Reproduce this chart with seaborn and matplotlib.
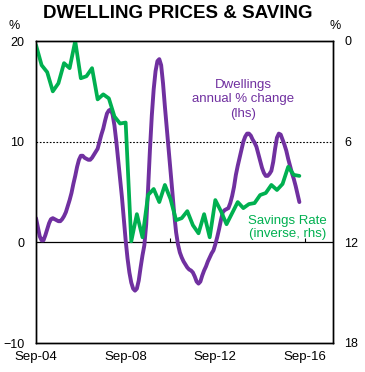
import matplotlib
matplotlib.use("Agg")
import pandas as pd
import seaborn as sns
import matplotlib.pyplot as plt

# monthly, Sep-04 to Jun-16: dwelling prices, annual % change (lhs)
dwellings = [2.4, 1.5, 0.6, 0.2, 0.2, 0.7, 1.3, 1.9, 2.3, 2.4,
             2.3, 2.2, 2.1, 2.1, 2.3, 2.6, 3.0, 3.6, 4.2, 4.9,
             5.8, 6.6, 7.5, 8.2, 8.6, 8.6, 8.4, 8.3, 8.2, 8.2,
             8.4, 8.7, 9.0, 9.3, 10.0, 10.7, 11.3, 12.1, 12.8, 13.1,
             13.2, 12.7, 11.6, 10.0, 8.2, 6.5, 4.5, 2.3, 0.2, -1.6,
             -3.0, -4.0, -4.6, -4.8, -4.6, -3.8, -2.5, -1.3, -0.3, 1.8,
             5.3, 9.2, 12.6, 15.2, 17.0, 18.0, 18.2, 17.6, 15.8, 13.5,
             11.4, 9.4, 7.2, 5.0, 2.8, 1.0, -0.2, -1.0, -1.5, -1.9,
             -2.2, -2.5, -2.7, -2.8, -3.0, -3.4, -3.9, -4.1, -3.9, -3.3,
             -2.8, -2.4, -1.9, -1.5, -1.1, -0.8, -0.2, 0.5, 1.3, 2.2,
             3.0, 3.2, 3.3, 3.4, 3.9, 4.6, 5.5, 6.7, 7.6, 8.4,
             9.2, 10.0, 10.5, 10.8, 10.8, 10.6, 10.2, 9.9, 9.5, 8.8,
             8.1, 7.4, 6.9, 6.6, 6.6, 6.8, 7.1, 8.0, 9.3, 10.4,
             10.8, 10.7, 10.2, 9.7, 9.1, 8.3, 7.6, 6.9, 6.3, 5.6,
             4.8, 4.0]
months = list(range(len(dwellings)))

# quarterly, Sep-04 to Jun-16: household savings rate, % (rhs, inverted)
savings_rate = [0.24, 1.44, 1.86, 3.0, 2.52, 1.32, 1.62, 0.0, 2.22, 2.1,
                1.62, 3.48, 3.18, 3.42, 4.5, 4.92, 4.86, 11.94, 10.32, 11.7,
                9.18, 8.82, 9.6, 8.58, 9.42, 10.68, 10.56, 10.14, 10.98, 11.46,
                10.32, 11.7, 9.48, 10.14, 10.92, 10.26, 9.6, 9.96, 9.72, 9.66,
                9.18, 9.06, 8.58, 8.88, 8.52, 7.5, 7.98, 8.04]
quarter_months = list(range(0, 3 * len(savings_rate), 3))

tick_pos = [0, 48, 96, 144]
tick_labels = ["Sep-04", "Sep-08", "Sep-12", "Sep-16"]
lhs_ticks = [-10, 0, 10, 20]
rhs_ticks = [0, 6, 12, 18]

purple = "#7030A0"
green = "#00B050"

sns.set_style("white")
plt.rcParams["font.family"] = ["Liberation Sans", "DejaVu Sans"]
plt.rcParams["text.color"] = "black"
plt.rcParams["xtick.color"] = "black"
plt.rcParams["ytick.color"] = "black"

df_dw = pd.DataFrame({"m": months, "dwellings": dwellings})
df_sv = pd.DataFrame({"m": quarter_months, "savings": savings_rate})

fig = plt.figure(figsize=(3.65, 3.72), dpi=100)
ax = fig.add_axes([36 / 365, 1 - 343 / 372, 297 / 365, 302 / 372])
ax2 = ax.twinx()

# reference lines
ax.axhline(10, color="black", lw=0.8, ls=(0, (1.5, 1.5)), zorder=1)
ax.axhline(0, color="black", lw=0.9, zorder=1)

sns.lineplot(data=df_dw, x="m", y="dwellings", ax=ax, color=purple, lw=2.8)
sns.lineplot(data=df_sv, x="m", y="savings", ax=ax2, color=green, lw=2.7)

ax.set_xlim(0, 159)
ax.set_ylim(-10, 20)
ax2.set_ylim(18, 0)
ax.set_yticks(lhs_ticks)
ax2.set_yticks(rhs_ticks)
ax.set_xticks(tick_pos)
ax.set_xticklabels(tick_labels)
ax.set_xlabel("")
ax.set_ylabel("")
ax2.set_ylabel("")
ax.tick_params(axis="x", length=0, pad=6, labelsize=9.5)
ax.tick_params(axis="y", length=0, pad=8.5, labelsize=9)
ax2.tick_params(axis="y", length=0, pad=8, labelsize=9)

# small ticks sitting on the zero line
sec = ax.secondary_xaxis(1 / 3)
sec.set_xticks([72, 144])
sec.tick_params(axis="x", direction="in", length=3, width=0.8,
                labelbottom=False, labeltop=False)
for s in sec.spines.values():
    s.set_visible(False)

for a in (ax, ax2):
    for s in a.spines.values():
        s.set_visible(True)
        s.set_color("black")
        s.set_linewidth(1.0)

ax.text(111, 14.2, "Dwellings\nannual % change\n(lhs)", color=purple,
        ha="center", va="center", fontsize=9.5, linespacing=1.25)
ax.text(134.5, 1.5, "Savings Rate\n(inverse, rhs)", color=green,
        ha="center", va="center", fontsize=9.5, linespacing=1.1)

fig.text(178 / 365, 1 - 13.5 / 372, "DWELLING PRICES & SAVING",
         ha="center", va="center", fontsize=13.5, fontweight="bold")
fig.text(14 / 365, 1 - 26 / 372, "%", ha="center", va="center", fontsize=9)
fig.text(335 / 365, 1 - 26 / 372, "%", ha="center", va="center", fontsize=9)

fig.savefig("out.png", dpi=100)
